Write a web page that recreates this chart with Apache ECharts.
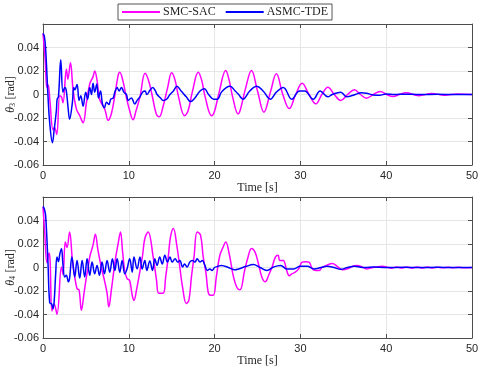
<!DOCTYPE html>
<html>
<head>
<meta charset="utf-8">
<script src="https://cdn.jsdelivr.net/npm/echarts@6/dist/echarts.min.js"></script>
<style>
  html, body { margin: 0; padding: 0; background: #fff; }
  #chart { width: 480px; height: 371px; }
</style>
</head>
<body>
<div id="chart"></div>
<script>
// series names
const seriesNames = ['SMC-SAC', 'ASMC-TDE'];
const xTicks = [0, 10, 20, 30, 40, 50];

// theta_3, SMC-SAC  [t (s), rad]
const theta3Sac = [
  [0, 0.052], [0.25, 0.03], [0.45, 0.006], [0.6, 0.008], [0.8, -0.005], [1.17, -0.03], [1.35, -0.028],
  [1.6, -0.034], [1.95, -0.001], [2.15, -0.002], [2.33, -0.007], [2.73, 0.0215], [2.9, 0.013], [3.2, 0.027],
  [3.5, 0.0045], [3.9, -0.0125], [4.28, -0.018], [4.67, -0.024], [5.06, -0.007], [5.45, 0.009], [5.83, 0.015],
  [6.03, 0.02], [6.3, 0.012], [6.6, -0.004], [7.2, -0.0125], [7.6, -0.022], [7.98, -0.016], [8.37, -0.001],
  [8.75, 0.016], [8.95, 0.019], [9.3, 0.012], [9.7, -0.002], [10.1, -0.0136], [10.5, -0.0215], [10.8, -0.015],
  [11.3, -0.002], [11.9, 0.018], [12.3, 0.012], [12.7, 0.0], [13.2, -0.0165], [13.55, -0.019], [14.0, -0.01],
  [14.5, 0.005], [15.0, 0.0185], [15.4, 0.012], [15.8, -0.002], [16.5, -0.018], [16.9, -0.014], [17.4, 0.002],
  [18.1, 0.019], [18.5, 0.012], [18.9, -0.002], [19.65, -0.018], [20.0, -0.014], [20.5, 0.001], [21.3, 0.0204],
  [21.7, 0.012], [22.1, -0.002], [22.75, -0.0165], [23.0, -0.013], [23.6, 0.005], [24.3, 0.0204], [25.0, 0.003],
  [25.75, -0.015], [26.5, 0.002], [27.2, 0.0176], [27.95, 0.0], [28.7, -0.012], [29.45, 0.0], [30.2, 0.0096],
  [31.0, 0.0], [31.8, -0.0079], [32.5, 0.0], [33.2, 0.0062], [33.95, 0], [34.7, -0.0051], [35.5, 0], [36.3, 0.004],
  [37.0, 0], [37.7, -0.0031], [38.5, 0], [39.3, 0.0026], [40.05, 0], [40.8, -0.0017], [41.55, 0], [42.3, 0.0014],
  [43.8, -0.001], [45.3, 0.0008], [46.8, -0.0006], [48.3, 0.0005], [50, 0]
];

// theta_3, ASMC-TDE
const theta3Tde = [
  [0, 0.052], [0.15, 0.05], [0.31, 0.0385], [0.58, -0.001], [0.78, -0.024], [1.1, -0.041], [1.3, -0.03],
  [1.56, -0.0136], [1.65, -0.004], [1.8, -0.002], [2.07, 0.0295], [2.33, 0.002], [2.55, 0.006], [2.7, 0.004],
  [2.92, -0.011], [3.1, -0.021], [3.43, -0.0065], [3.58, 0.006], [3.7, 0.004], [3.97, 0.0085], [4.2, -0.005],
  [4.4, -0.001], [4.67, -0.010], [4.98, 0.002], [5.2, -0.004], [5.45, 0.006], [5.65, 0.0], [5.83, 0.0096],
  [6.03, 0.002], [6.27, 0.009], [6.47, -0.003], [6.7, 0.003], [6.93, -0.008], [7.16, -0.0113], [7.4, -0.0065],
  [7.67, -0.0085], [7.9, -0.004], [8.17, -0.003], [8.37, 0.002], [8.64, 0.006], [8.87, 0.003], [9.15, 0.006],
  [9.42, 0.002], [9.73, 0.0], [9.92, -0.005], [10.3, -0.003], [10.7, -0.008], [10.97, -0.005], [11.3, -0.002],
  [11.6, 0.002], [11.9, 0.003], [12.1, 0.0], [12.5, 0.004], [12.8, 0.006], [13.1, 0.003], [13.3, 0.0],
  [13.7, -0.003], [14.0, -0.005], [14.4, -0.004], [14.8, 0.0], [15.2, 0.003], [15.6, 0.007], [16.1, 0.003],
  [16.7, -0.002], [17.2, -0.006], [17.7, -0.003], [18.3, 0.003], [18.8, 0.005], [19.3, 0.0], [19.9, -0.004],
  [20.3, -0.004], [20.8, 0.002], [21.4, 0.006], [21.8, 0.007], [22.4, 0.003], [22.8, 0.0], [23.3, -0.004],
  [24.1, 0.003], [24.9, 0.007], [25.65, 0.003], [26.5, -0.004], [27.2, 0.002], [28.0, 0.006], [29.0, -0.004],
  [29.9, 0.003], [30.5, 0.003], [31.5, -0.004], [32.3, 0.003], [33.2, -0.002], [33.7, 0.0], [34.7, 0.002],
  [35.4, -0.002], [36.4, 0.0], [37.1, 0.0015], [37.7, 0.001], [38.5, -0.0004], [39.2, -0.0007], [40, 0.0005],
  [41, 0.0], [42, 0.0003], [44, 0], [46, 0.0002], [48, 0], [50, 0]
];

// theta_4, SMC-SAC
const theta4Sac = [
  [0, 0.0516], [0.2, 0.03], [0.47, 0.004], [0.7, 0.0124], [0.82, 0.0067], [1.05, -0.037], [1.3, -0.031],
  [1.63, -0.0397], [2.15, 0.0005], [2.33, -0.006], [2.6, 0.0218], [2.8, 0.017], [3.1, 0.0303], [3.43, 0.006],
  [3.7, -0.008], [3.97, -0.018], [4.2, -0.019], [4.48, -0.0364], [4.78, -0.022], [5.06, -0.008], [5.26, 0],
  [5.45, 0.009], [5.83, 0.019], [6.1, 0.0283], [6.4, 0.015], [6.8, 0], [7.2, -0.0122], [7.47, -0.022],
  [7.67, -0.0335], [7.97, -0.019], [8.25, -0.003], [8.48, 0.009], [8.75, 0.02], [9.03, 0.0303], [9.27, 0.014],
  [9.53, -0.003], [9.8, -0.0094], [10.1, -0.011], [10.4, -0.0236], [10.6, -0.028], [10.9, -0.019], [11.3, -0.003],
  [11.6, 0.01], [11.87, 0.0247], [12.25, 0.0303], [12.84, 0.009], [13.23, -0.0108], [13.5, -0.022], [14.0, -0.022],
  [14.3, -0.008], [14.6, 0.009], [14.86, 0.026], [15.2, 0.0332], [15.57, 0.02], [15.95, 0], [16.27, -0.017],
  [16.7, -0.0306], [17.0, -0.028], [17.3, -0.008], [17.6, 0.009], [17.97, 0.0303], [18.36, 0.0275], [18.67, 0.009],
  [19.0, -0.005], [19.25, -0.021], [19.5, -0.0236], [19.85, -0.0236], [20.2, -0.008], [20.6, 0.01], [21.0, 0.0175],
  [21.3, 0.0218], [21.7, 0.0117], [22.2, -0.008], [22.6, -0.017], [22.95, -0.019], [23.5, -0.0025], [23.9, 0.009],
  [24.3, 0.0162], [24.7, 0.0133], [25.1, 0.0034], [25.5, -0.008], [25.9, -0.0122], [26.3, -0.0066], [26.7, 0.0004],
  [27.1, 0.009], [27.4, 0.0104], [27.6, 0.006], [28.0, 0.006], [28.4, -0.0025], [28.7, -0.007], [29.0, -0.0054],
  [29.4, -0.004], [29.8, -0.0012], [30.2, 0.0046], [30.6, 0.005], [31.0, 0.0046], [31.4, -0.0012], [31.8, -0.0025],
  [32.2, -0.0025], [32.5, 0], [33.1, 0.002], [33.7, 0.0034], [34.3, 0.001], [34.9, -0.002], [35.5, -0.0012],
  [36.1, 0.001], [36.6, 0.0016], [37.2, 0.0005], [37.7, -0.0012], [38.3, -0.0003], [38.9, 0.0005], [39.5, 0.001],
  [40.0, 0.0005], [40.6, -0.0006], [41.2, 0.0004], [41.8, -0.0004], [42.4, 0.0005], [43.0, -0.0005], [43.6, 0.0004],
  [44.2, -0.0004], [44.8, 0.0004], [45.4, -0.0004], [46.0, 0.0003], [46.6, -0.0003], [47.2, 0.0003], [47.8, -0.0003],
  [48.4, 0.0002], [49.0, -0.0002], [50, 0]
];

// theta_4, ASMC-TDE
const theta4Tde = [
  [0, 0.052], [0.15, 0.05], [0.31, 0.0437], [0.58, 0.004], [0.78, -0.03], [1.0, -0.031], [1.17, -0.035],
  [1.3, -0.029], [1.48, -0.005], [1.63, 0.009], [1.8, 0.005], [1.96, 0.0115], [2.15, 0.016], [2.33, 0.002],
  [2.53, -0.008], [2.72, -0.0066], [2.96, -0.0122], [3.1, -0.009], [3.37, 0.009], [3.7, -0.008], [3.97, 0.006],
  [4.28, -0.009], [4.56, 0.006], [4.86, -0.008], [5.14, 0.0074], [5.45, -0.0066], [5.72, 0.0046], [6.03, -0.0054],
  [6.3, 0.0018], [6.58, -0.0066], [6.88, 0.0046], [7.16, -0.0054], [7.47, 0.006], [7.78, -0.004], [8.09, 0.0074],
  [8.37, -0.0025], [8.64, 0.0074], [8.95, -0.004], [9.22, 0.006], [9.53, -0.0054], [9.8, -0.001], [10.1, 0.0074],
  [10.4, -0.004], [10.6, 0.009], [10.97, -0.0012], [11.3, 0.009], [11.55, -0.0012], [11.87, 0.006], [12.1, -0.0025],
  [12.45, 0.0055], [12.76, -0.0025], [13.03, 0.0074], [13.3, 0.0018], [13.6, 0.009], [13.9, 0.003], [14.2, 0.0104],
  [14.5, 0.0046], [14.8, 0.009], [15.05, 0.0046], [15.4, 0.0074], [15.7, 0.0046], [15.95, 0.006], [16.27, 0.0004],
  [16.5, 0.003], [16.8, 0.0004], [17.1, 0.0046], [17.4, 0.006], [17.7, 0.0046], [17.97, 0.0074], [18.3, 0.0046],
  [18.56, 0.006], [18.87, 0.0018], [19.15, -0.0025], [19.45, -0.0012], [19.7, -0.0025], [20.0, 0], [20.4, 0.001],
  [20.8, 0.0018], [21.2, 0.001], [21.6, 0], [22.0, -0.0012], [22.4, -0.002], [22.8, -0.0012], [23.7, 0.001],
  [24.5, 0.0025], [25.3, 0], [26.1, -0.0025], [26.9, 0.0005], [27.7, 0.0018], [28.4, -0.0012], [29.2, -0.0012],
  [30.0, 0.001], [30.8, 0.001], [31.6, -0.0012], [32.4, 0], [33.1, 0.001], [33.9, 0], [34.7, -0.0015], [35.5, 0],
  [36.3, 0.001], [37.5, 0], [38.5, 0.0004], [40, 0], [42, 0.0002], [44, 0], [46, 0.0002], [48, 0], [50, 0]
];

const axisColor = '#4d4d4d';
const textColor = '#262626';
const serif = '"Liberation Serif", "DejaVu Serif", serif';
const sans = '"Liberation Sans", Arial, sans-serif';

function yFmt(v) {
  if (Math.abs(v) < 1e-9) return '0';
  if (v > 0.055) return '';
  return v.toFixed(2);
}

function makeX(gridIndex, pos, main) {
  return {
    type: 'value', gridIndex: gridIndex, position: pos,
    min: 0, max: 50, interval: 10,
    name: main ? 'Time [s]' : '',
    nameLocation: 'middle', nameGap: 17, nameMoveOverlap: false,
    nameTextStyle: { fontFamily: serif, fontSize: 12, color: textColor },
    axisLine: { show: true, onZero: false, lineStyle: { color: axisColor, width: 1 } },
    axisTick: { show: true, inside: true, length: 4, lineStyle: { color: axisColor } },
    axisLabel: { show: main, fontFamily: sans, fontSize: 11, color: textColor, margin: 5 },
    splitLine: { show: main, lineStyle: { color: '#e6e6e6', width: 1 } }
  };
}

function makeY(gridIndex, pos, main, sub) {
  return {
    type: 'value', gridIndex: gridIndex, position: pos,
    min: -0.06, max: 0.06, interval: 0.02,
    name: main ? '{t|θ}{s|' + sub + '} {r|[rad]}' : '',
    nameLocation: 'middle', nameGap: 26, nameRotate: 90, nameMoveOverlap: false,
    nameTextStyle: {
      color: textColor,
      rich: {
        t: { fontFamily: serif, fontStyle: 'italic', fontSize: 12, color: textColor },
        s: { fontFamily: serif, fontSize: 8, color: textColor, padding: [5, 0, 0, 0] },
        r: { fontFamily: serif, fontSize: 12, color: textColor }
      }
    },
    axisLine: { show: true, onZero: false, lineStyle: { color: axisColor, width: 1 } },
    axisTick: { show: true, inside: true, length: 4, lineStyle: { color: axisColor } },
    axisLabel: { show: main, fontFamily: sans, fontSize: 11, color: textColor, margin: 4, formatter: yFmt },
    splitLine: { show: main, lineStyle: { color: '#e6e6e6', width: 1 } }
  };
}

function makeSeries(name, data, color, idx) {
  return {
    name: name, type: 'line', data: data,
    xAxisIndex: idx, yAxisIndex: idx,
    showSymbol: false, symbol: 'none', smooth: 0.4,
    lineStyle: { color: color, width: 1.5 },
    itemStyle: { color: color },
    animation: false
  };
}

const chart = echarts.init(document.getElementById('chart'));
chart.setOption({
  backgroundColor: '#ffffff',
  animation: false,
  legend: {
    data: seriesNames,
    left: 118, top: 4,
    padding: [2, 4, 2, 4],
    itemGap: 10, itemWidth: 38, itemHeight: 2,
    icon: 'rect',
    backgroundColor: '#ffffff',
    borderColor: '#555555', borderWidth: 1,
    textStyle: { fontFamily: serif, fontSize: 12, color: textColor, padding: [0, 0, 0, -2] }
  },
  grid: [
    { left: 43, right: 8, top: 24, height: 141, outerBoundsMode: 'none', containLabel: false },
    { left: 43, right: 8, top: 197, height: 141, outerBoundsMode: 'none', containLabel: false }
  ],
  xAxis: [makeX(0, 'bottom', true), makeX(1, 'bottom', true), makeX(0, 'top', false), makeX(1, 'top', false)],
  yAxis: [makeY(0, 'left', true, '3'), makeY(1, 'left', true, '4'), makeY(0, 'right', false), makeY(1, 'right', false)],
  series: [
    makeSeries(seriesNames[0], theta3Sac, '#ff00ff', 0),
    makeSeries(seriesNames[1], theta3Tde, '#0000ff', 0),
    makeSeries(seriesNames[0], theta4Sac, '#ff00ff', 1),
    makeSeries(seriesNames[1], theta4Tde, '#0000ff', 1)
  ]
});
</script>
</body>
</html>
